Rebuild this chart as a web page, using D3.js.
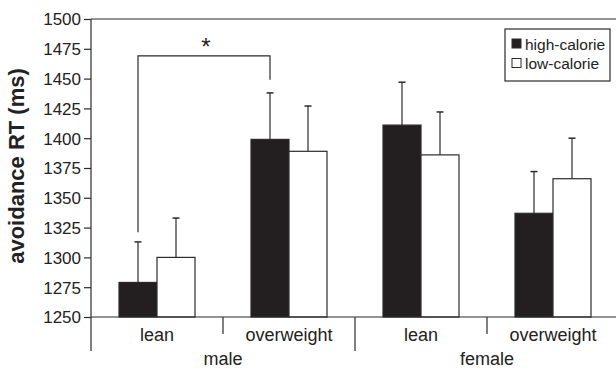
<!DOCTYPE html>
<html>
<head>
<meta charset="utf-8">
<script src="https://cdn.jsdelivr.net/npm/d3@7"></script>
<style>
  html, body { margin: 0; padding: 0; background: #fff; }
  svg { display: block; font-family: "Liberation Sans", Arial, Helvetica, sans-serif; }
</style>
</head>
<body>
<svg id="chart" width="616" height="369"></svg>
<script>
// ---- data ----
const categories = ["lean", "overweight", "lean", "overweight"];
const groups = ["male", "female"];
const series = ["high-calorie", "low-calorie"];
const highValues = [1279, 1399, 1411, 1337];
const highErrors = [1313, 1438, 1447, 1372];
const lowValues = [1300, 1389, 1386, 1366];
const lowErrors = [1333, 1427, 1422, 1400];
const yTicks = [1250, 1275, 1300, 1325, 1350, 1375, 1400, 1425, 1450, 1475, 1500];
const bracketFrom = 0, bracketTo = 1;      // category indices (high-calorie bars)
const bracketTop = 1469, bracketLeftEnd = 1321, bracketRightEnd = 1449;
const sigLabel = "*";
const yTitle = "avoidance RT (ms)";

// ---- layout ----
const svg = d3.select("#chart");
const pLeft = 91, pRight = 619, pTop = 19, pBottom = 317;
const ink = "#2b2b2b";
const barFill = { "high-calorie": "#231f20", "low-calorie": "#ffffff" };

const x0 = d3.scaleBand().domain(d3.range(categories.length)).range([pLeft, pRight]).padding(0);
const x1 = d3.scaleBand().domain(series)
  .range([x0.bandwidth() / 2 - 38, x0.bandwidth() / 2 + 38]).padding(0);
const y = d3.scaleLinear().domain([1250, 1500]).range([pBottom, pTop]);

const rows = [];
categories.forEach((c, i) => {
  rows.push({ i, s: "high-calorie", v: highValues[i], e: highErrors[i] });
  rows.push({ i, s: "low-calorie", v: lowValues[i], e: lowErrors[i] });
});

// top frame line
svg.append("line").attr("x1", pLeft).attr("x2", 616).attr("y1", y(1500)).attr("y2", y(1500))
  .attr("stroke", ink).attr("stroke-width", 1.2);

// error bars
const eb = svg.append("g");
rows.forEach(r => {
  const cx = x0(r.i) + x1(r.s) + x1.bandwidth() / 2;
  eb.append("line").attr("x1", cx).attr("x2", cx).attr("y1", y(r.v)).attr("y2", y(r.e))
    .attr("stroke", ink).attr("stroke-width", 1.2);
  eb.append("line").attr("x1", cx - 3.5).attr("x2", cx + 3.5).attr("y1", y(r.e)).attr("y2", y(r.e))
    .attr("stroke", ink).attr("stroke-width", 1.5);
});

// bars
svg.append("g").selectAll("rect").data(rows).join("rect")
  .attr("x", d => x0(d.i) + x1(d.s))
  .attr("y", d => y(d.v))
  .attr("width", x1.bandwidth())
  .attr("height", d => y(1250) - y(d.v))
  .attr("fill", d => barFill[d.s])
  .attr("stroke", ink).attr("stroke-width", 1.2);

// y axis
const yAxis = d3.axisLeft(y).tickValues(yTicks).tickSize(7).tickPadding(3).tickFormat(d3.format("d"));
const gy = svg.append("g").attr("transform", `translate(${pLeft},0)`).call(yAxis);
gy.select(".domain").remove();
gy.selectAll(".tick line").attr("stroke", ink).attr("stroke-width", 1.2);
gy.selectAll(".tick text").attr("font-size", 17).attr("fill", "#222")
  .attr("font-family", "'Liberation Sans', Arial, sans-serif").attr("dy", "0.35em");
svg.append("line").attr("x1", pLeft).attr("x2", pLeft).attr("y1", pTop).attr("y2", 351)
  .attr("stroke", ink).attr("stroke-width", 1.2);

// x axis baseline
svg.append("line").attr("x1", pLeft).attr("x2", 616).attr("y1", pBottom).attr("y2", pBottom)
  .attr("stroke", ink).attr("stroke-width", 1.2);

// category separators
categories.forEach((c, i) => {
  if (i === 0) return;
  const xs = x0(i);
  const isGroupEdge = i % 2 === 0;
  svg.append("line").attr("x1", xs).attr("x2", xs).attr("y1", pBottom).attr("y2", isGroupEdge ? 351 : 334)
    .attr("stroke", ink).attr("stroke-width", 1.2);
});

// category labels
svg.append("g").selectAll("text").data(categories).join("text")
  .attr("x", (d, i) => x0(i) + x0.bandwidth() / 2)
  .attr("y", 341)
  .attr("text-anchor", "middle").attr("font-size", 18).attr("fill", "#222")
  .text(d => d);
svg.append("g").selectAll("text").data(groups).join("text")
  .attr("x", (d, g) => (x0(g * 2) + x0(g * 2 + 1) + x0.bandwidth()) / 2)
  .attr("y", 365)
  .attr("text-anchor", "middle").attr("font-size", 18).attr("fill", "#222")
  .text(d => d);

// y title
svg.append("text")
  .attr("transform", `translate(24,166) rotate(-90)`)
  .attr("text-anchor", "middle").attr("font-size", 22).attr("font-weight", "bold").attr("fill", "#222")
  .text(yTitle);

// significance bracket
const bx1 = x0(bracketFrom) + x1("high-calorie") + x1.bandwidth() / 2;
const bx2 = x0(bracketTo) + x1("high-calorie") + x1.bandwidth() / 2;
svg.append("path")
  .attr("d", `M${bx1},${y(bracketLeftEnd)}V${y(bracketTop)}H${bx2}V${y(bracketRightEnd)}`)
  .attr("fill", "none").attr("stroke", ink).attr("stroke-width", 1.2);
svg.append("text").attr("x", (bx1 + bx2) / 2 + 2).attr("y", 55)
  .attr("text-anchor", "middle").attr("font-size", 24).attr("fill", "#222").text(sigLabel);

// legend
const lg = svg.append("g");
lg.append("rect").attr("x", 505).attr("y", 29).attr("width", 105).attr("height", 52)
  .attr("fill", "#fff").attr("stroke", ink).attr("stroke-width", 1.2);
series.forEach((s, k) => {
  const ly = 44 + k * 19.5;
  lg.append("rect").attr("x", 512).attr("y", ly - 5).attr("width", 9).attr("height", 9)
    .attr("fill", barFill[s]).attr("stroke", ink).attr("stroke-width", 1);
  lg.append("text").attr("x", 525).attr("y", ly + 5.5).attr("font-size", 15.5).attr("fill", "#222").text(s);
});
</script>
</body>
</html>
